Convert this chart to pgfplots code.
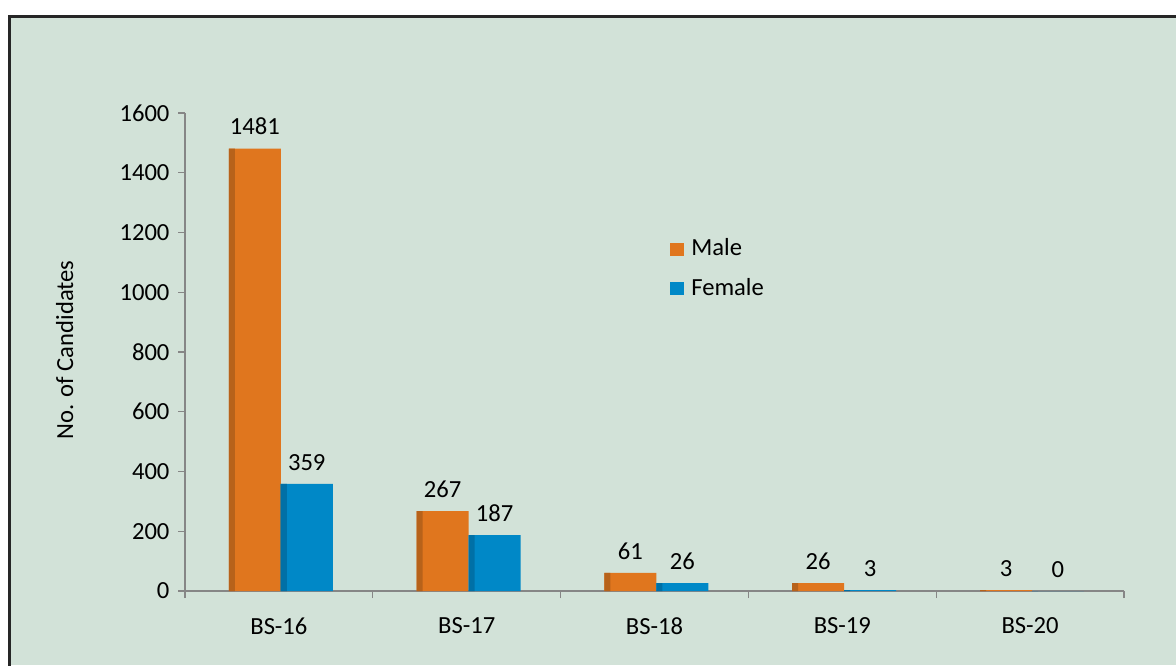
\documentclass[border=0pt]{standalone}
\usepackage{fontspec}
\setmainfont{Carlito}
\usepackage{pgfplots}
\usepackage{pgfplotstable}
\pgfplotsset{compat=1.18}
\definecolor{bgc}{HTML}{D2E2D8}
\definecolor{malec}{HTML}{E0761E}
\definecolor{malel}{HTML}{B7621A}
\definecolor{femc}{HTML}{0088C7}
\definecolor{feml}{HTML}{0070A6}
\definecolor{axc}{HTML}{868686}

\pgfplotstableread{
x male female
0 1481 359
1 267 187
2 61 26
3 26 3
4 3 0
}\candidates

\begin{document}
\fontsize{14}{17}\selectfont
\begin{tikzpicture}
\useasboundingbox (0,0) rectangle (23.52,-13.3);
\fill[white] (0,0) rectangle (23.52,-13.3);
\fill[bgc] (0.18,-0.32) rectangle (23.52,-13.3);
\draw[line width=0.05cm, black!85] (0.19,-13.5) -- (0.19,-0.33) -- (23.7,-0.33);
\begin{axis}[
  at={(3.70cm,-11.82cm)}, anchor=south west,
  width=18.78cm, height=9.56cm, scale only axis,
  xmin=-0.5, xmax=4.5, ymin=0, ymax=1600,
  /pgf/number format/1000 sep={},
  /pgf/number format/assume math mode=true,
  axis lines=left, axis line style={axc, -, line width=0.7pt},
  tick style={axc, line width=0.7pt},
  tick align=outside, major tick length=0.14cm,
  ytick={0,200,...,1600},
  xtick={-0.5,0.5,...,4.5}, xticklabels={},
  extra x ticks={0,1,2,3,4},
  extra x tick labels={BS-16,BS-17,BS-18,BS-19,BS-20},
  extra x tick style={major tick length=0pt, xticklabel style={yshift=-0.36cm}},
  tick label style={font=\fontsize{14}{17}\selectfont},
  ylabel={No. of Candidates},
  ylabel style={at={(axis description cs:-0.128,0.504)}, anchor=center, font=\fontsize{14}{17}\selectfont},
  ybar, bar width=0.277,
  every node near coord/.append style={font=\fontsize{14}{17}\selectfont, black, yshift=0.1cm},
  legend style={at={(0.5165,0.745)}, anchor=north west, draw=none, fill=none,
    font=\fontsize{14}{17}\selectfont, row sep=0.24cm, inner sep=0pt,
    /tikz/every odd column/.append style={column sep=0.08cm}},
  legend cell align=left,
  legend image code/.code={\fill[#1] (0cm,-0.13cm) rectangle (0.27cm,0.13cm);},
]
\addplot[fill=malec, draw=none, bar shift=-0.1283, nodes near coords] table[x=x, y=male] {\candidates};
\addplot[fill=femc, draw=none, bar shift=0.1483, nodes near coords] table[x=x, y=female] {\candidates};
% darker left edge of each bar
\addplot[fill=malel, draw=none, bar width=0.032, bar shift=-0.2508, forget plot] table[x=x, y=male] {\candidates};
\addplot[fill=feml, draw=none, bar width=0.032, bar shift=0.0258, forget plot] table[x=x, y=female] {\candidates};
\legend{Male, Female}
\end{axis}
\end{tikzpicture}
\end{document}
